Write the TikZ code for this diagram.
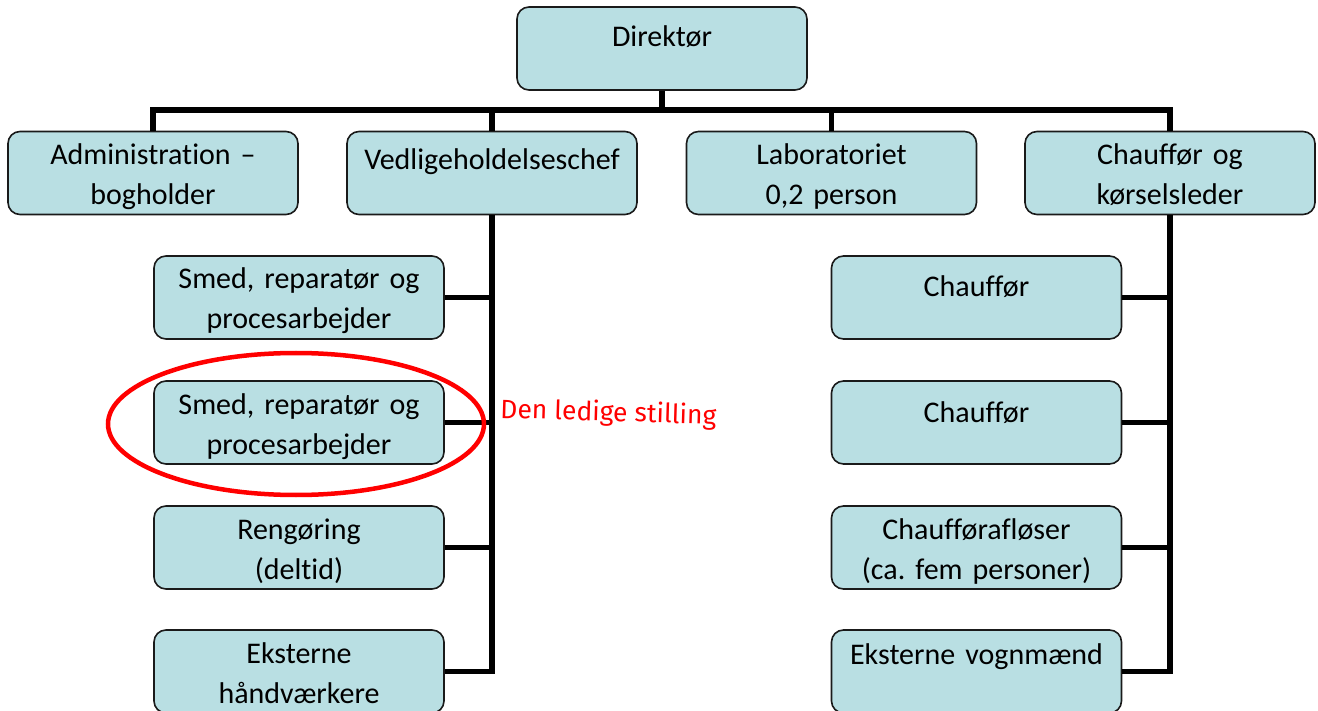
\documentclass[tikz,border=0pt]{standalone}
\usepackage{fontspec}
\setmainfont[Ligatures=NoCommon]{Carlito}
\newfontfamily\handfont{Fira Sans}
\definecolor{boxfill}{HTML}{B9DFE3}
\definecolor{boxline}{HTML}{1A1A1A}
\frenchspacing

\begin{document}
\begin{tikzpicture}[x=1pt,y=-1pt,
    box/.style={draw=boxline,line width=1.6pt,rounded corners=12pt,fill=boxfill,
        minimum width=290pt,minimum height=83pt,text width=280pt,align=center,
        inner xsep=5pt,inner ysep=5pt,font=\fontsize{30}{40}\selectfont,
        text height=28pt,text depth=45pt},
    conn/.style={line width=5.5pt,line join=miter}]
    \useasboundingbox (0,0) rectangle (1318,711);
    \clip (0,0) rectangle (1318,711);

    \node[box,text height=35pt,text depth=38pt] (dir) at (662,48.5) {Direktør};

    \node[box] (adm) at (153,173) {Administration –\\ bogholder};
    \node[box,text height=33pt,text depth=40pt] (ved) at (492,173) {Vedligeholdelseschef};
    \node[box] (lab) at (831.5,173) {Laboratoriet\\ 0,2 person};
    \node[box] (cko) at (1170,173) {Chauffør og\\ kørselsleder};

    \node[box] (smed) at (299,297.5) {Smed, reparatør og\\ procesarbejder};
    \node[box] (smedto) at (299,422.5) {Smed, reparatør og\\ procesarbejder};
    \node[box] (reng) at (299,547.5) {Rengøring\\ (deltid)};
    \node[box] (ekst) at (299,671.5) {Eksterne\\ håndværkere};

    \node[box,text height=36pt,text depth=37pt] (chfa) at (976.5,297.5) {Chauffør};
    \node[box,text height=36pt,text depth=37pt] (chfb) at (976.5,422.5) {Chauffør};
    \node[box] (afl) at (976.5,547.5) {Chaufførafløser\\ (ca. fem personer)};
    \node[box,text height=29pt,text depth=44pt] (vogn) at (976.5,671.5) {Eksterne vognmænd};

    \coordinate (bus) at (662,110);
    \draw[conn] (dir.south) -- (bus);
    \draw[conn] (adm.north) -- (adm.north |- bus) -- (cko.north |- bus) -- (cko.north);
    \draw[conn] (ved.north) -- (ved.north |- bus);
    \draw[conn] (lab.north) -- (lab.north |- bus);

    \draw[conn] (ved.south) -- (ved.south |- ekst.east) -- (ekst.east);
    \foreach \b in {smed,smedto,reng}
        \draw[conn] (\b.east) -- (\b.east -| ved.south);
    \draw[conn] (cko.south) -- (cko.south |- vogn.east) -- (vogn.east);
    \foreach \b in {chfa,chfb,afl}
        \draw[conn] (\b.east) -- (\b.east -| cko.south);

    \draw[red,line width=4.5pt] (296,424) ellipse [x radius=188, y radius=71];
    \node[text=red,font=\handfont\fontsize{26.5}{30}\selectfont,anchor=base west,
        inner sep=0pt,rotate=-1.7] (note) at (500,418) {Den ledige stilling};
\end{tikzpicture}
\end{document}
